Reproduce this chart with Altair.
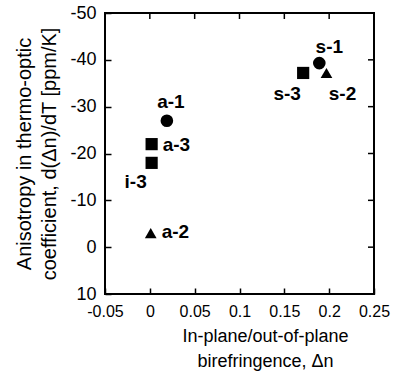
import altair as alt
import pandas as pd

# ---- data ----
sample = ["a-1", "a-2", "a-3", "i-3", "s-1", "s-2", "s-3"]
birefringence = [0.019, 0.001, 0.002, 0.002, 0.189, 0.197, 0.171]
anisotropy = [-27.0, -3.0, -22.0, -18.0, -39.3, -37.2, -37.2]
marker = ["circle", "triangle", "square", "square", "circle", "triangle", "square"]

x_ticks = [-0.05, 0, 0.05, 0.1, 0.15, 0.2, 0.25]
y_ticks = [-50, -40, -30, -20, -10, 0, 10]

df = pd.DataFrame({"sample": sample, "dn": birefringence, "dndt": anisotropy, "marker": marker})
xt = pd.DataFrame({"v": x_ticks})
yt = pd.DataFrame({"v": y_ticks})

# ---- styling ----
FONT = "Liberation Sans"
W, H, TL = 269, 281, 6
label_place = {
    "a-1": (4, -19, "center"),
    "a-2": (11, -1, "left"),
    "a-3": (11, 1, "left"),
    "i-3": (-16, 19, "center"),
    "s-1": (10, -16, "center"),
    "s-2": (16, 21, "center"),
    "s-3": (-16, 21, "center"),
}

xs = alt.Scale(domain=[-0.05, 0.25], nice=False, zero=False)
ys = alt.Scale(domain=[-50, 10], nice=False, zero=False, reverse=True)
lab = "'' + datum.value"

x_axis = alt.Axis(
    orient="bottom", offset=-TL, values=x_ticks, labelExpr=lab, ticks=True, tickSize=TL,
    tickWidth=1.5, tickColor="black",
    domain=False, grid=False, labelFont=FONT, labelFontSize=16, labelColor="black",
    labelPadding=9, labelFlush=False,
    title=["In-plane/out-of-plane", "birefringence, Δn"], titleFont=FONT,
    titleFontSize=18, titleFontWeight="normal", titleColor="black",
    titleLineHeight=25, titlePadding=8, titleX=160)
y_axis = alt.Axis(
    orient="left", offset=-TL, values=y_ticks, labelExpr=lab, ticks=True, tickSize=TL,
    tickWidth=1.5, tickColor="black",
    domain=False, grid=False, labelFont=FONT, labelFontSize=18, labelColor="black",
    labelPadding=9, labelFlush=False,
    title=["Anisotropy in thermo-optic", "coefficient, d(Δn)/dT [ppm/K]"],
    titleFont=FONT, titleFontSize=20, titleFontWeight="normal", titleColor="black",
    titleLineHeight=25, titlePadding=10)

base = alt.Chart(df)

main = base.mark_point(filled=True, opacity=1, color="black").encode(
    x=alt.X("dn:Q", scale=xs, axis=x_axis),
    y=alt.Y("dndt:Q", scale=ys, axis=y_axis),
    shape=alt.Shape("marker:N", legend=None,
                    scale=alt.Scale(domain=["circle", "square", "triangle"],
                                    range=["circle", "square", "triangle-up"])),
    size=alt.Size("marker:N", legend=None,
                  scale=alt.Scale(domain=["circle", "square", "triangle"],
                                  range=[160, 137, 240])),
)

# inward tick marks on the top and right sides
xtick_t = alt.Chart(xt).mark_rule(color="black", strokeWidth=1.5).encode(
    x=alt.X("v:Q", scale=xs, axis=x_axis), y=alt.value(0), y2=alt.value(TL))
ytick_r = alt.Chart(yt).mark_rule(color="black", strokeWidth=1.5).encode(
    y=alt.Y("v:Q", scale=ys, axis=y_axis), x=alt.value(W - TL), x2=alt.value(W))

texts = []
for name in sample:
    dx, dy, al = label_place[name]
    texts.append(
        base.transform_filter(alt.datum.sample == name)
        .mark_text(font=FONT, fontSize=19, fontWeight="bold", color="black",
                   align=al, baseline="middle", dx=dx, dy=dy)
        .encode(x=alt.X("dn:Q", scale=xs, axis=x_axis),
                y=alt.Y("dndt:Q", scale=ys, axis=y_axis), text="sample:N")
    )

chart = (
    alt.layer(main, xtick_t, ytick_r, *texts)
    .properties(width=W, height=H,
                padding={"left": 105, "top": 13, "right": 21, "bottom": 87},
                autosize=alt.AutoSizeParams(type="none"), background="white")
    .configure_view(stroke="black", strokeWidth=2)
)

chart.save("out.html", embed_options={"renderer": "svg", "actions": False})
